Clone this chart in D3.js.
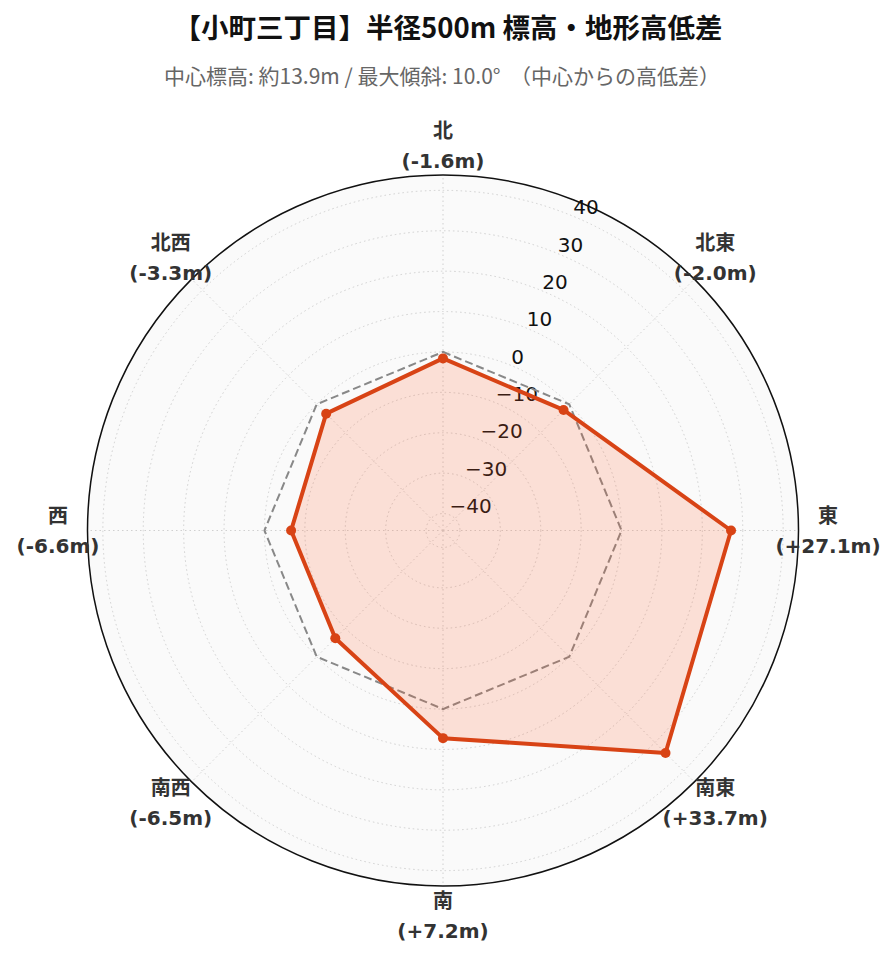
<!DOCTYPE html>
<html><head><meta charset="utf-8">
<script src="https://cdn.jsdelivr.net/npm/d3@7"></script>
<style>html,body{margin:0;padding:0;background:#fff;}svg{display:block;}</style>
</head><body>
<script>
const directions = ["北","北東","東","南東","南","南西","西","北西"];
const diffs = [-1.6, -2.0, 27.1, 33.7, 7.2, -6.5, -6.6, -3.3];
const reference = [0, 0, 0, 0, 0, 0, 0, 0];
const radialTicks = [-40, -30, -20, -10, 0, 10, 20, 30, 40];
const radialRange = [-44.2, 43.8];
const titleText = "【小町三丁目】半径500m 標高・地形高低差";
const subtitleText = "中心標高: 約13.9m / 最大傾斜: 10.0°  （中心からの高低差）";

const W = 896, H = 962;
const cx = 443, cy = 530.5, R = 355.5;
const svg = d3.select("body").append("svg").attr("width", W).attr("height", H);

const r = d3.scaleLinear().domain(radialRange).range([0, R]);
const angleOf = d => (directions.indexOf(d) / directions.length) * 2 * Math.PI;
const pt = (a, rad) => [cx + rad * Math.sin(a), cy - rad * Math.cos(a)];

// titles
svg.append("text").attr("x", 448).attr("y", 38).attr("text-anchor", "middle")
  .style("font-family", "'Noto Sans CJK JP', sans-serif").style("font-weight", "bold")
  .style("font-size", "27.5px").attr("fill", "#111").text(titleText);
svg.append("text").attr("x", 442).attr("y", 84).attr("text-anchor", "middle")
  .attr("xml:space", "preserve").style("white-space", "pre")
  .style("font-family", "'Noto Sans CJK JP', sans-serif")
  .style("font-size", "21px").attr("fill", "#666").text(subtitleText);

const g = svg.append("g");
g.append("circle").attr("cx", cx).attr("cy", cy).attr("r", R).attr("fill", "#fafafa");

g.selectAll(".rg").data(radialTicks).join("circle")
  .attr("cx", cx).attr("cy", cy).attr("r", d => r(d))
  .attr("fill", "none").attr("stroke", "#d0d0d0").attr("stroke-width", 1)
  .attr("stroke-dasharray", "1.5,3");
g.selectAll(".ag").data(directions).join("line")
  .attr("x1", cx).attr("y1", cy)
  .attr("x2", d => pt(angleOf(d), R)[0]).attr("y2", d => pt(angleOf(d), R)[1])
  .attr("stroke", "#d0d0d0").attr("stroke-width", 1).attr("stroke-dasharray", "1.5,3");

const tickAngle = Math.PI / 8;
g.selectAll(".rt").data(radialTicks).join("text")
  .attr("x", d => pt(tickAngle, r(d))[0])
  .attr("y", d => pt(tickAngle, r(d))[1] - 9)
  .attr("dy", "0.35em")
  .attr("text-anchor", "start")
  .style("font-family", "'DejaVu Sans', sans-serif").style("font-size", "20px")
  .attr("fill", "#111")
  .text(d => d < 0 ? "\u2212" + Math.abs(d) : String(d));

g.append("circle").attr("cx", cx).attr("cy", cy).attr("r", R)
  .attr("fill", "none").attr("stroke", "#111").attr("stroke-width", 1.5);

const line = d3.lineRadial().angle((d, i) => angleOf(directions[i])).radius(d => r(d)).curve(d3.curveLinearClosed);

g.append("path").attr("transform", `translate(${cx},${cy})`)
  .attr("d", line(reference)).attr("fill", "none")
  .attr("stroke", "#888").attr("stroke-width", 2).attr("stroke-dasharray", "8,4");

g.append("path").attr("transform", `translate(${cx},${cy})`)
  .attr("d", line(diffs)).attr("fill", "rgba(255,87,34,0.17)")
  .attr("stroke", "#d84315").attr("stroke-width", 4).attr("stroke-linejoin", "round");

g.selectAll(".mk").data(diffs).join("circle")
  .attr("cx", (d, i) => pt(angleOf(directions[i]), r(d))[0])
  .attr("cy", (d, i) => pt(angleOf(directions[i]), r(d))[1])
  .attr("r", 5).attr("fill", "#d84315");

const labelR = 385;
const lab = g.selectAll(".al").data(directions).join("text")
  .attr("text-anchor", "middle")
  .style("font-family", "'DejaVu Sans', 'Noto Sans CJK JP', sans-serif")
  .style("font-weight", "bold").style("font-size", "20px").attr("fill", "#333");
lab.each(function (d, i) {
  const [x, y] = pt(angleOf(d), labelR);
  const v = diffs[i];
  const s = "(" + (v > 0 ? "+" : "") + v.toFixed(1) + "m)";
  const t = d3.select(this);
  t.append("tspan").attr("x", x).attr("y", y - 15).attr("dy", "0.35em").text(d);
  t.append("tspan").attr("x", x).attr("y", y + 15).attr("dy", "0.35em").text(s);
});
</script>
</body></html>
